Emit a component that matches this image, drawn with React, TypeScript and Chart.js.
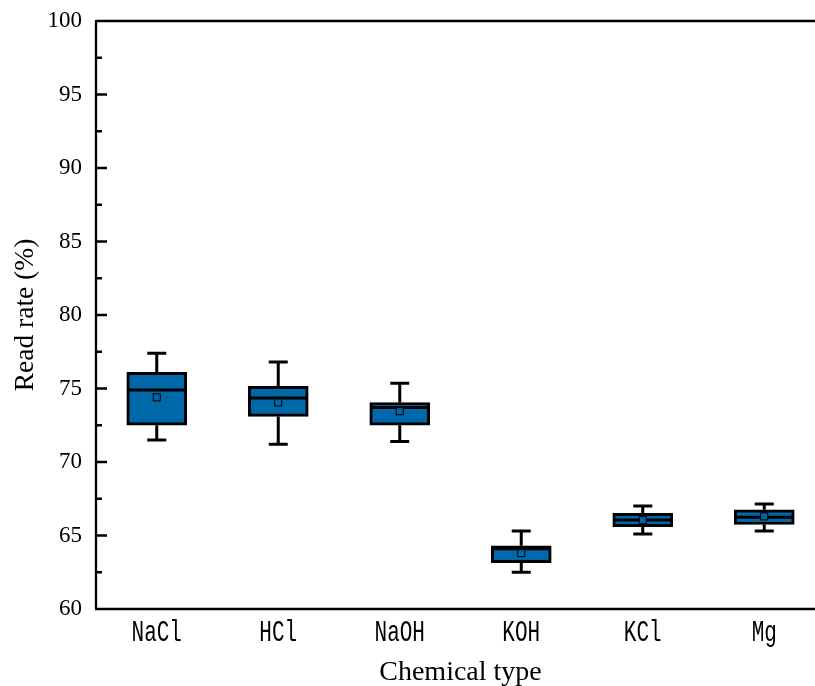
import React, { useEffect, useRef } from "react";
import { Chart, registerables } from "chart.js";

Chart.register(...registerables);

const categories = ["NaCl", "HCl", "NaOH", "KOH", "KCl", "Mg"];
const whiskerMax = [77.4, 76.8, 75.35, 65.3, 67.0, 67.15];
const q3 = [76.1, 75.15, 74.05, 64.3, 66.5, 66.75];
const median = [74.9, 74.35, 73.7, 64.1, 66.05, 66.25];
const mean = [74.4, 74.05, 73.45, 63.8, 66.05, 66.3];
const q1 = [72.5, 73.1, 72.5, 63.15, 65.6, 65.75];
const whiskerMin = [71.5, 71.2, 71.4, 62.5, 65.1, 65.3];
const yTicks = [60, 65, 70, 75, 80, 85, 90, 95, 100];
const yMinorTicks = [62.5, 67.5, 72.5, 77.5, 82.5, 87.5, 92.5, 97.5];

const BLUE = "#0067A9";

const boxPlugin = {
  id: "boxExtras",
  afterDatasetsDraw(chart: any) {
    const { ctx } = chart;
    const xs = chart.scales.x;
    const ys = chart.scales.y;
    ctx.save();
    ctx.strokeStyle = "#000";
    categories.forEach((_, i) => {
      const cx = xs.getPixelForValue(i + 1);
      const half = 30;
      ctx.lineWidth = 3;
      ctx.beginPath();
      ctx.moveTo(cx, ys.getPixelForValue(q3[i]));
      ctx.lineTo(cx, ys.getPixelForValue(whiskerMax[i]));
      ctx.moveTo(cx, ys.getPixelForValue(q1[i]));
      ctx.lineTo(cx, ys.getPixelForValue(whiskerMin[i]));
      ctx.stroke();
      ctx.beginPath();
      ctx.moveTo(cx - 9.5, ys.getPixelForValue(whiskerMax[i]));
      ctx.lineTo(cx + 9.5, ys.getPixelForValue(whiskerMax[i]));
      ctx.moveTo(cx - 9.5, ys.getPixelForValue(whiskerMin[i]));
      ctx.lineTo(cx + 9.5, ys.getPixelForValue(whiskerMin[i]));
      ctx.stroke();
      ctx.beginPath();
      ctx.moveTo(cx - half + 1, ys.getPixelForValue(median[i]));
      ctx.lineTo(cx + half - 1, ys.getPixelForValue(median[i]));
      ctx.stroke();
      const my = ys.getPixelForValue(mean[i]);
      ctx.fillStyle = BLUE;
      ctx.lineWidth = 1;
      ctx.fillRect(cx - 3.5, my - 3.5, 7, 7);
      ctx.strokeRect(cx - 3.5, my - 3.5, 7, 7);
    });
    ctx.restore();
  },
  afterDraw(chart: any) {
    const { ctx, chartArea } = chart;
    const ys = chart.scales.y;
    const xs = chart.scales.x;
    const { left, right, top, bottom } = chartArea;
    ctx.save();
    ctx.strokeStyle = "#000";
    ctx.lineWidth = 2.3;
    ctx.beginPath();
    ctx.moveTo(left, top);
    ctx.lineTo(right, top);
    ctx.moveTo(left, top - 1);
    ctx.lineTo(left, bottom);
    ctx.moveTo(left - 1, bottom);
    ctx.lineTo(right, bottom);
    yTicks.forEach((v) => {
      const y = ys.getPixelForValue(v);
      ctx.moveTo(left, y);
      ctx.lineTo(left + 11, y);
    });
    yMinorTicks.forEach((v) => {
      const y = ys.getPixelForValue(v);
      ctx.moveTo(left, y);
      ctx.lineTo(left + 6, y);
    });
    ctx.stroke();
    ctx.fillStyle = "#000";
    ctx.font = "25px 'Liberation Mono'";
    ctx.textAlign = "center";
    ctx.textBaseline = "alphabetic";
    categories.forEach((c, i) => {
      const cx = xs.getPixelForValue(i + 1);
      ctx.save();
      ctx.translate(cx, bottom + 32);
      ctx.scale(0.84, 1.15);
      ctx.fillText(c, 0, 0);
      ctx.restore();
    });
    ctx.restore();
  },
};

export default function App() {
  const ref = useRef<HTMLCanvasElement>(null);
  useEffect(() => {
    if (!ref.current) return;
    const chart = new Chart(ref.current, {
      type: "bar",
      data: {
        datasets: [
          {
            data: categories.map((_, i) => ({ x: i + 1, y: [q1[i], q3[i]] })) as any,
            backgroundColor: BLUE,
            borderColor: "#000",
            borderWidth: 3,
            borderSkipped: false,
            barThickness: 60,
            grouped: false,
          } as any,
        ],
      },
      options: {
        animation: false,
        responsive: false,
        devicePixelRatio: 1,
        layout: { padding: { top: 21, right: 0, left: 0, bottom: 0 } },
        plugins: { legend: { display: false }, tooltip: { enabled: false } },
        scales: {
          x: {
            type: "linear",
            min: 0.5,
            max: 6.5,
            offset: false,
            grid: { display: false, drawTicks: false },
            border: { display: false },
            ticks: { display: false },
            afterFit: (s: any) => {
              s.height = 77;
              s.paddingLeft = 0;
              s.paddingRight = 0;
            },
            title: {
              display: true,
              text: "Chemical type",
              color: "#000",
              font: { family: "'Liberation Serif'", size: 28 },
              padding: { top: 0, bottom: -3 },
            },
          },
          y: {
            min: 60,
            max: 100,
            grid: { display: false, drawTicks: false },
            border: { display: false },
            ticks: {
              stepSize: 5,
              padding: 14,
              color: "#000",
              font: { family: "'Liberation Serif'", size: 23 },
            },
            afterFit: (s: any) => {
              s.width = 96;
              s.paddingTop = 0;
              s.paddingBottom = 0;
            },
            title: {
              display: true,
              text: "Read rate (%)",
              color: "#000",
              font: { family: "'Liberation Serif'", size: 27.5 },
              padding: { top: 9, bottom: 0 },
            },
          },
        },
      },
      plugins: [boxPlugin],
    });
    return () => chart.destroy();
  }, []);
  return (
    <div style={{ position: "absolute", left: 0, top: 0, width: 815, height: 686, overflow: "hidden", background: "#fff" }}>
      <canvas ref={ref} width={825} height={686} />
    </div>
  );
}
